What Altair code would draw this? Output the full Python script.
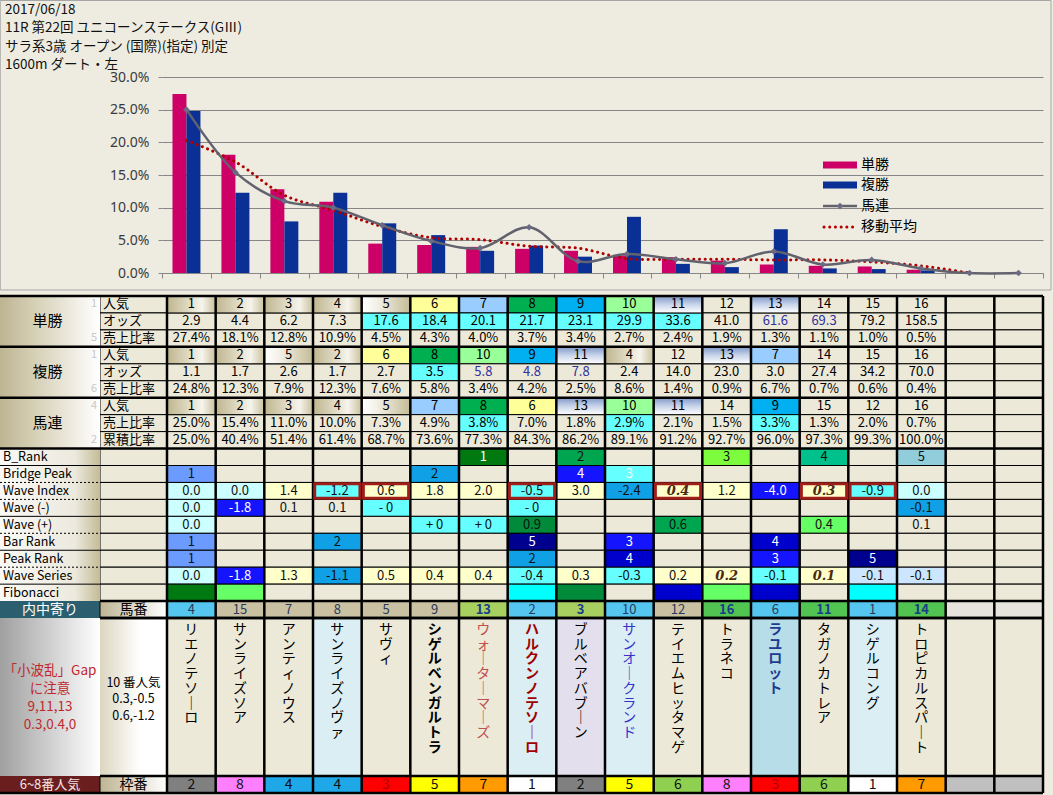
import altair as alt
import pandas as pd

# ---------------- data ----------------
title_lines = ["2017/06/18", "11R 第22回 ユニコーンステークス(GⅢ)",
               "サラ系3歳 オープン (国際)(指定) 別定", "1600m  ダート・左"]
categories = [str(i) for i in range(1, 19)]
series_names = ["単勝", "複勝", "馬連", "移動平均"]
y_ticks = [0, 5, 10, 15, 20, 25, 30]

tan_pop = [1, 2, 3, 4, 5, 6, 7, 8, 9, 10, 11, 12, 13, 14, 15, 16]
tan_odds = [2.9, 4.4, 6.2, 7.3, 17.6, 18.4, 20.1, 21.7, 23.1, 29.9, 33.6, 41.0, 61.6, 69.3, 79.2, 158.5]
tan_share = [27.4, 18.1, 12.8, 10.9, 4.5, 4.3, 4.0, 3.7, 3.4, 2.7, 2.4, 1.9, 1.3, 1.1, 1.0, 0.5]
fuku_pop = [1, 2, 5, 2, 6, 8, 10, 9, 11, 4, 12, 13, 7, 14, 15, 16]
fuku_odds = [1.1, 1.7, 2.6, 1.7, 2.7, 3.5, 5.8, 4.8, 7.8, 2.4, 14.0, 23.0, 3.0, 27.4, 34.2, 70.0]
fuku_share = [24.8, 12.3, 7.9, 12.3, 7.6, 5.8, 3.4, 4.2, 2.5, 8.6, 1.4, 0.9, 6.7, 0.7, 0.6, 0.4]
umaren_pop = [1, 2, 3, 4, 5, 7, 8, 6, 13, 10, 11, 14, 9, 15, 12, 16]
umaren_share = [25.0, 15.4, 11.0, 10.0, 7.3, 4.9, 3.8, 7.0, 1.8, 2.9, 2.1, 1.5, 3.3, 1.3, 2.0, 0.7]
umaren_cum = [25.0, 40.4, 51.4, 61.4, 68.7, 73.6, 77.3, 84.3, 86.2, 89.1, 91.2, 92.7, 96.0, 97.3, 99.3, 100.0]
umaren_tail = [0.0, 0.0]          # chart points 17 and 18 sit on 0%
moving_avg = [20.3, 17.0, 11.9, 9.6, 7.1, 5.4, 5.1, 4.1, 3.8, 2.2, 2.1, 2.1, 2.0, 2.0, 1.7, 1.1, 0.0]

b_rank = ["", "", "", "", "", "", "1", "", "2", "", "", "3", "", "4", "", "5"]
bridge_peak = ["1", "", "", "", "", "2", "", "", "4", "3", "", "", "", "", "", ""]
wave_index = [0.0, 0.0, 1.4, -1.2, 0.6, 1.8, 2.0, -0.5, 3.0, -2.4, 0.4, 1.2, -4.0, 0.3, -0.9, 0.0]
wave_minus = ["0.0", "-1.8", "0.1", "0.1", "- 0", "", "", "- 0", "", "", "", "", "", "", "", "-0.1"]
wave_plus = ["0.0", "", "", "", "", "+ 0", "+ 0", "0.9", "", "", "0.6", "", "", "0.4", "", "0.1"]
bar_rank = ["1", "", "", "2", "", "", "", "5", "", "3", "", "", "4", "", "", ""]
peak_rank = ["1", "", "", "", "", "", "", "2", "", "4", "", "", "3", "", "5", ""]
wave_series = [0.0, -1.8, 1.3, -1.1, 0.5, 0.4, 0.4, -0.4, 0.3, -0.3, 0.2, 0.2, -0.1, 0.1, -0.1, -0.1]
umaban = [4, 15, 7, 8, 5, 9, 13, 2, 3, 10, 12, 16, 6, 11, 1, 14]
waku = [2, 8, 4, 4, 3, 5, 7, 1, 2, 5, 6, 8, 3, 6, 1, 7]
horse_names = ["リエノテソーロ", "サンライズソア", "アンティノウス", "サンライズノヴァ", "サヴィ",
               "シゲルベンガルトラ", "ウォーターマーズ", "ハルクンノテソーロ", "ブルベアバブーン",
               "サンオークランド", "テイエムヒッタマゲ", "トラネコ", "ラユロット", "タガノカトレア",
               "シゲルコング", "トロピカルスパート"]
note_left = "「小波乱」Gap\nに注意\n9,11,13\n0.3,0.4,0"
note_right = "10 番人気\n0.3,-0.5\n0.6,-1.2"
lower_labels = ["B_Rank", "Bridge Peak", "Wave Index", "Wave (-)", "Wave (+)",
                "Bar Rank", "Peak Rank", "Wave Series", "Fibonacci"]

# ---------------- styles ----------------
FONT = "Noto Sans CJK JP"
PLAIN = "#ECE9D8"
PAL = {'pl': PLAIN, 'lc': '#CCFFFF', 'ly': '#FFFFCC', 'cy': '#66FFFF', 'bm': '#0FA0E6',
       'bl': '#1414FF', 'db': '#0000CC', 'nv': '#00008F', 'cf': '#6B9BFF', 'lb': '#CCE6FF',
       'dg': '#007A10', 'dg2': '#008A3A', 'gr': '#00A550', 'lg': '#66FF66', 'lg3': '#7CFC3C',
       'tg': '#00C08C', 'sb': '#92CDDC', 'ca': '#00FFFF'}
DARK = {'bl', 'db', 'nv', 'dg'}
b_rank_st = ['pl'] * 6 + ['dg', 'pl', 'gr', 'pl', 'pl', 'lg3', 'pl', 'tg', 'pl', 'sb']
bridge_st = ['cf', 'pl', 'pl', 'pl', 'pl', 'bm', 'pl', 'pl', 'bl', 'cy'] + ['pl'] * 6
windex_st = ['lc', 'lc', 'ly', 'cy', 'ly', 'ly', 'ly', 'cy', 'ly', 'bm', 'ly', 'ly', 'bl', 'ly', 'cy', 'lc']
wminus_st = ['lc', 'bl', 'pl', 'pl', 'cy', 'pl', 'pl', 'cy'] + ['pl'] * 7 + ['bm']
wplus_st = ['lc', 'pl', 'pl', 'pl', 'pl', 'cy', 'cy', 'dg2', 'pl', 'pl', 'gr', 'pl', 'pl', 'lg', 'pl', 'pl']
barr_st = ['cf', 'pl', 'pl', 'bm', 'pl', 'pl', 'pl', 'nv', 'pl', 'bl', 'pl', 'pl', 'db', 'pl', 'pl', 'pl']
peakr_st = ['cf', 'pl', 'pl', 'pl', 'pl', 'pl', 'pl', 'bm', 'pl', 'db', 'pl', 'pl', 'bl', 'pl', 'nv', 'pl']
wseries_st = ['lc', 'bl', 'ly', 'bm', 'ly', 'ly', 'ly', 'cy', 'ly', 'cy', 'ly', 'ly', 'cy', 'ly', 'lb', 'lb']
fib_st = ['dg', 'lg', 'pl', 'pl', 'pl', 'pl', 'pl', 'ca', 'dg2', 'pl', 'db', 'lg', 'db', 'pl', 'ca', 'pl']
red_box_cols = [3, 4, 7, 10, 13, 14]
bold_italic = {(11, 10), (11, 13), (16, 11), (16, 13)}
POP_FILL = {6: '#FFFF99', 7: '#99CCFF', 8: '#00B050', 9: '#00B0F0', 10: '#99FF99'}
UMA_FILL = {'b': '#55C6F0', 't': '#C9C1A2', 'y': '#A8D060', 'g': '#52C452'}
uma_st = ['b', 't', 't', 't', 't', 't', 'y', 'b', 'y', 'b', 't', 'g', 'b', 'g', 'b', 'g']
WAKU_FILL = {1: '#FFFFFF', 2: '#808080', 3: '#FF0000', 4: '#1EA8E8', 5: '#FFFF00',
             6: '#8FD050', 7: '#FF9A00', 8: '#FF80FF'}
name_bg = ['pl', 'pl', 'pl', 'n1', 'pl', 'pl', 'pl', 'n1', 'n2', 'n1', 'pl', 'pl', 'n3', 'pl', 'n1', 'pl']
NAME_FILL = {'pl': PLAIN, 'n1': '#DAEEF3', 'n2': '#E4DFEC', 'n3': '#B7DEE8'}
name_style = {5: ('bold', '#000000'), 6: ('normal', '#C0504D'), 7: ('bold', '#A00000'),
              9: ('normal', '#3333CC'), 12: ('bold', '#1F3A8F')}


def lg(stops, vertical=False):
    return alt.LinearGradient(gradient='linear',
                              stops=[alt.GradientStop(color=c, offset=o) for o, c in stops],
                              x1=0, y1=0, x2=0 if vertical else 1, y2=1 if vertical else 0)


GRADS = {
    'metal': lg([(0, '#BFB58F'), (0.35, '#D8D2B8'), (0.72, '#F6F4EC'), (1, '#C9C09C')]),
    'fade': lg([(0, '#FFFFFF'), (0.3, '#F3F1E8'), (1, '#C4BC96')]),
    'bluegrad': lg([(0, '#7F98C8'), (0.5, '#C8D4EA'), (1, '#FFFFFF')], vertical=True),
    'grp': lg([(0, '#BDB492'), (0.35, '#D6D0B6'), (1, '#FFFFFF')]),
    'low': lg([(0, '#FAF9F5'), (0.75, '#ECE9DE'), (1, '#C4BC96')]),
    'tanw': lg([(0, '#BDB492'), (1, '#FFFFFF')]),
    'gray': lg([(0, '#A0A0A0'), (1, '#FFFFFF')]),
    'note2': lg([(0, '#DCD6C0'), (0.6, '#FFFFFF'), (1, '#FFFFFF')]),
}

# ---------------- layout (table units) ----------------
COL_PX = 876 / 18
ROW_PX = 16.95
XA = -167 / COL_PX
XB = -67 / COL_PX
R_NAME = 19.0
R_WAKU = R_NAME + 158 / ROW_PX
R_END = R_WAKU + 1.0
R_TOP = -296 / ROW_PX          # top edge of the picture, in row units
NCOL = 18

TX = alt.Scale(domain=[-5 / COL_PX, 876 / COL_PX], nice=False, zero=False)
TY = alt.Scale(domain=[-219 / ROW_PX, -219 / ROW_PX + 196 / ROW_PX], nice=False, zero=False, reverse=True)

plain_cells, grad_cells, text_rows = [], {k: [] for k in GRADS}, []


def cell(c0, c1, r0, r1, fill, stroke=True):
    d = dict(x0=c0, x1=c1, y0=r0, y1=r1, fill=fill, st=1 if stroke else 0)
    if fill in GRADS:
        grad_cells[fill].append(d)
    else:
        plain_cells.append(d)


def txt(x, y, s, color='#000000', kind='num'):
    if s != "":
        text_rows.append(dict(tx=x, ty=y, text=s, color=color, kind=kind))


def pop_fill(v):
    if v <= 4:
        return 'metal'
    if v == 5:
        return 'fade'
    if v in (11, 13):
        return 'bluegrad'
    return POP_FILL.get(v, PLAIN)


# header text (race info)
txt(XA + 5 / COL_PX, R_TOP + 3.0 / ROW_PX, "\n".join(title_lines), '#111111', kind='title')

# top block
groups = [("単勝", ["人気", "オッズ", "売上比率"], ["1", "", "5"]),
          ("複勝", ["人気", "オッズ", "売上比率"], ["1", "", "6"]),
          ("馬連", ["人気", "売上比率", "累積比率"], ["4", "", "2"])]
top_rows = [
    [(str(v), pop_fill(v), '#000') for v in tan_pop],
    [(f"{v:.1f}", '#66FFFF' if 4 <= i <= 10 else PLAIN, '#2F2F9F' if i in (12, 13) else '#000') for i, v in enumerate(tan_odds)],
    [(f"{v:.1f}%", PLAIN, '#000') for v in tan_share],
    [(str(v), pop_fill(v), '#000') for v in fuku_pop],
    [(f"{v:.1f}", '#66FFFF' if i == 5 else PLAIN, '#2F2F9F' if i in (6, 7, 8) else '#000') for i, v in enumerate(fuku_odds)],
    [(f"{v:.1f}%", PLAIN, '#000') for v in fuku_share],
    [(str(v), pop_fill(v), '#000') for v in umaren_pop],
    [(f"{v:.1f}%", '#66FFFF' if i in (6, 9, 12) else PLAIN, '#000') for i, v in enumerate(umaren_share)],
    [(f"{v:.1f}%", PLAIN, '#000') for v in umaren_cum],
]
for g, (gname, subs, tiny) in enumerate(groups):
    r0 = g * 3
    cell(XA, XB, r0, r0 + 3, 'grp', stroke=False)
    txt((XA + XB) / 2 - 0.05, r0 + 1.5, gname, kind='grp')
    for k in range(3):
        cell(XB, 0, r0 + k, r0 + k + 1, PLAIN)
        txt(XB + 0.06, r0 + k + 0.5, subs[k], kind='sub')
        txt(XB - 0.12, r0 + k + 0.5, tiny[k], color='#C8C8C8', kind='tiny')
for r, row in enumerate(top_rows):
    for c in range(NCOL):
        if c < 16:
            s, f, tc = row[c]
            cell(c, c + 1, r, r + 1, f)
            txt(c + 0.5, r + 0.5, s, tc)
        else:
            cell(c, c + 1, r, r + 1, PLAIN)

# lower block
fmt = lambda v: f"{v:.1f}"
lower = [
    (b_rank, b_rank_st), (bridge_peak, bridge_st), ([fmt(v) for v in wave_index], windex_st),
    (wave_minus, wminus_st), (wave_plus, wplus_st), (bar_rank, barr_st), (peak_rank, peakr_st),
    ([fmt(v) for v in wave_series], wseries_st), ([""] * 16, fib_st)]
cell(XA, XB, 9, 18, 'low', stroke=False)
for k, (vals, sts) in enumerate(lower):
    r = 9 + k
    txt(XA + 0.06, r + 0.5, lower_labels[k], kind='lbl')
    cell(XB, 0, r, r + 1, PLAIN)
    for c in range(NCOL):
        code = sts[c] if c < 16 else 'pl'
        cell(c, c + 1, r, r + 1, PAL[code])
        if c < 16:
            if (r, c) in bold_italic:
                txt(c + 0.5, r + 0.5, vals[c], '#4A2A10', kind='bi')
            else:
                txt(c + 0.5, r + 0.5, vals[c], '#FFFFFF' if code in DARK or (code == 'cy' and r == 10) else '#111111')

# umaban row
cell(XA, XB, 18, 19, '#2B5E6E', stroke=False)
txt((XA + XB) / 2, 18.5, "内中寄り", '#FFFFFF', kind='lab14')
cell(XB, 0, 18, 19, 'tanw')
txt(XB / 2, 18.5, "馬番", kind='lab14')
for c in range(NCOL):
    if c < 16:
        cell(c, c + 1, 18, 19, UMA_FILL[uma_st[c]])
        bold = uma_st[c] in ('y', 'g')
        txt(c + 0.5, 18.5, str(umaban[c]), '#1A3C8C' if bold else '#2A3A5A', kind='umab' if bold else 'num')
    else:
        cell(c, c + 1, 18, 19, '#E6E4DC')

# names block
cell(XA, XB, R_NAME, R_WAKU, 'gray', stroke=False)
cell(XB, 0, R_NAME, R_WAKU, 'note2', stroke=False)
txt((XA + XB) / 2, R_NAME + 2.7, note_left, '#C0282D', kind='note1')
txt(XB / 2, R_NAME + 3.45, note_right, '#000000', kind='note2')
for c in range(NCOL):
    if c < 16:
        cell(c, c + 1, R_NAME, R_WAKU, NAME_FILL[name_bg[c]])
        w, col = name_style.get(c, ('normal', '#000000'))
        s = "\n".join(horse_names[c].replace("ー", "｜"))
        txt(c + 0.5, R_NAME, s, col, kind='nameb' if w == 'bold' else 'name')
    else:
        cell(c, c + 1, R_NAME, R_WAKU, PLAIN)

# waku row
cell(XA, XB, R_WAKU, R_END, '#6A1E1E', stroke=False)
txt((XA + XB) / 2, R_WAKU + 0.5, "6~8番人気", '#F4E4E4', kind='lab13')
cell(XB, 0, R_WAKU, R_END, 'tanw')
txt(XB / 2, R_WAKU + 0.5, "枠番", kind='lab14')
for c in range(NCOL):
    if c < 16:
        cell(c, c + 1, R_WAKU, R_END, WAKU_FILL[waku[c]])
        txt(c + 0.5, R_WAKU + 0.5, str(waku[c]), '#B00000' if waku[c] == 3 else '#111111', kind='num14')
    else:
        cell(c, c + 1, R_WAKU, R_END, '#C0C0C0')

# rules
thick, thin, dotted = [], [], []
for c in range(NCOL + 1):
    thick.append(dict(x0=c, x1=c, y0=0, y1=R_END))
for r in (0, 3, 6, 9):
    thick.append(dict(x0=XA, x1=NCOL, y0=r, y1=r))
for r in (18, 19, R_NAME, R_WAKU):
    thick.append(dict(x0=XB, x1=NCOL, y0=r, y1=r))
thick.append(dict(x0=XA, x1=NCOL, y0=R_END, y1=R_END))
for r in (10, 13, 15, 17):
    thin.append(dict(x0=XA, x1=XB, y0=r, y1=r))
for r in (11, 12, 14, 16):
    dotted.append(dict(x0=XA, x1=XB, y0=r, y1=r))
red_boxes = [dict(x0=c + 0.035, x1=c + 0.965, y0=11.07, y1=11.93) for c in red_box_cols]
frame = [dict(x0=XA + 0.005, x1=(1051 - 167) / COL_PX, y0=R_TOP + 0.03, y1=-6 / ROW_PX)]

# ---------------- table layers ----------------
def enc_rect(ch):
    return ch.encode(x=alt.X('x0:Q', scale=TX, axis=None), x2='x1:Q',
                     y=alt.Y('y0:Q', scale=TY, axis=None), y2='y1:Q')


table_layers = [
    enc_rect(alt.Chart(pd.DataFrame(frame)).mark_rect(fillOpacity=0, stroke='#A6A6A6', strokeWidth=1)),
]
pdf = pd.DataFrame(plain_cells)
table_layers.append(enc_rect(alt.Chart(pdf[pdf.st == 1]).mark_rect(stroke='#000000', strokeWidth=1)).encode(
    fill=alt.Fill('fill:N', scale=None)))
table_layers.append(enc_rect(alt.Chart(pdf[pdf.st == 0]).mark_rect()).encode(
    fill=alt.Fill('fill:N', scale=None)))
for gname, lst in grad_cells.items():
    if not lst:
        continue
    gdf = pd.DataFrame(lst)
    for st in (0, 1):
        sub = gdf[gdf.st == st]
        if len(sub) == 0:
            continue
        if st:
            m = alt.Chart(sub).mark_rect(fill=GRADS[gname], stroke='#000000', strokeWidth=1)
        else:
            m = alt.Chart(sub).mark_rect(fill=GRADS[gname])
        table_layers.append(enc_rect(m))


def enc_rule(rows, **kw):
    return alt.Chart(pd.DataFrame(rows)).mark_rule(**kw).encode(
        x=alt.X('x0:Q', scale=TX, axis=None), x2='x1:Q',
        y=alt.Y('y0:Q', scale=TY, axis=None), y2='y1:Q')


table_layers.append(enc_rule(thin, color='#000000', strokeWidth=1))
table_layers.append(enc_rule(dotted, color='#000000', strokeWidth=1, strokeDash=[2, 2]))
table_layers.append(enc_rule(thick, color='#000000', strokeWidth=2.5))
table_layers.append(enc_rect(alt.Chart(pd.DataFrame(red_boxes)).mark_rect(
    fillOpacity=0, stroke='#A01E1A', strokeWidth=3)))

TEXT_KINDS = {
    'title': dict(fontSize=13.5, font=FONT, align='left', baseline='top', lineBreak='\n', lineHeight=18.3),
    'num': dict(fontSize=13, font=FONT),
    'num14': dict(fontSize=14, font=FONT),
    'bi': dict(fontSize=13, font="DejaVu Serif", fontWeight='bold', fontStyle='italic'),
    'sub': dict(fontSize=13, font=FONT, align='left'),
    'grp': dict(fontSize=15, font=FONT),
    'tiny': dict(fontSize=11, font=FONT),
    'lbl': dict(fontSize=12.5, font=FONT, align='left'),
    'lab14': dict(fontSize=14, font=FONT),
    'lab13': dict(fontSize=13, font=FONT),
    'umab': dict(fontSize=13, font=FONT, fontWeight='bold'),
    'note1': dict(fontSize=13.5, font=FONT, lineBreak='\n', lineHeight=18, baseline='top'),
    'note2': dict(fontSize=12.5, font=FONT, lineBreak='\n', lineHeight=16.5, baseline='top'),
    'name': dict(fontSize=14, font=FONT, lineBreak='\n', lineHeight=14.7, baseline='top', dy=5),
    'nameb': dict(fontSize=14, font=FONT, fontWeight='bold', lineBreak='\n', lineHeight=14.7, baseline='top', dy=5),
}
tdf = pd.DataFrame(text_rows)
for kind, props in TEXT_KINDS.items():
    sub = tdf[tdf.kind == kind]
    if len(sub) == 0:
        continue
    props = dict(props)
    props.setdefault('align', 'center')
    props.setdefault('baseline', 'middle')
    table_layers.append(alt.Chart(sub).mark_text(**props).encode(
        x=alt.X('tx:Q', scale=TX, axis=None), y=alt.Y('ty:Q', scale=TY, axis=None),
        text='text:N', color=alt.Color('color:N', scale=None)))

table_part = alt.layer(*table_layers)

# ---------------- chart layers ----------------
PINK, BLUE, GRAY, DRED = '#CC0066', '#0A3096', '#62626E', '#B00000'
bar_rows = []
for i in range(16):
    bar_rows.append(dict(cat=categories[i], series="単勝", value=tan_share[i]))
    bar_rows.append(dict(cat=categories[i], series="複勝", value=fuku_share[i]))
bar_df = pd.DataFrame(bar_rows)
line_df = pd.DataFrame({'cat': categories, 'value': umaren_share + umaren_tail})
ma_df = pd.DataFrame({'cat': categories[:len(moving_avg)], 'value': moving_avg})

xscale = alt.Scale(domain=categories, paddingInner=0, paddingOuter=0)
yscale = alt.Scale(domain=[0, 30], nice=False)
xaxis = alt.Axis(labels=False, title=None, tickBand='extent', tickSize=5,
                 tickColor='#868686', domainColor='#868686', grid=False)
yaxis = alt.Axis(values=y_ticks, labelExpr="format(datum.value, '.1f') + '%'", title=None,
                 grid=True, gridColor='#868686', tickColor='#868686', tickSize=4,
                 domain=False, labelPadding=9, labelFont='Noto Sans', labelFontSize=14,
                 labelColor='#3A3A3A')
X = alt.X('cat:O', scale=xscale, sort=categories, axis=xaxis)
Y = alt.Y('value:Q', scale=yscale, axis=yaxis)

bars = alt.Chart(bar_df).mark_bar().encode(
    x=X,
    xOffset=alt.XOffset('series:N', scale=alt.Scale(domain=["単勝", "複勝"], paddingInner=0, paddingOuter=0.75)),
    y=Y,
    color=alt.Color('series:N', scale=alt.Scale(domain=["単勝", "複勝"], range=[PINK, BLUE]), legend=None),
)
ma_line = alt.Chart(ma_df).mark_line(color=DRED, strokeWidth=3, strokeDash=[0.1, 5.6], strokeCap='round',
                                     interpolate='catmull-rom').encode(x=X, y=Y)
um_line = alt.Chart(line_df).mark_line(color=GRAY, strokeWidth=2.5, interpolate='catmull-rom').encode(x=X, y=Y)
um_pts = alt.Chart(line_df).mark_point(shape='diamond', filled=True, size=45, color='#6A6A84', opacity=1).encode(x=X, y=Y)

one = pd.DataFrame({'k': [0]})
LX0, LX1, LTX = 661, 695, 699
LY = [88, 108, 129, 150]
legend_layers = [
    alt.Chart(one).mark_rect(color=PINK).encode(x=alt.value(LX0), x2=alt.value(LX1), y=alt.value(LY[0] - 3.5), y2=alt.value(LY[0] + 3.5)),
    alt.Chart(one).mark_rect(color=BLUE).encode(x=alt.value(LX0), x2=alt.value(LX1), y=alt.value(LY[1] - 3.5), y2=alt.value(LY[1] + 3.5)),
    alt.Chart(one).mark_rule(color=GRAY, strokeWidth=2.5).encode(x=alt.value(LX0), x2=alt.value(LX1), y=alt.value(LY[2])),
    alt.Chart(one).mark_point(shape='diamond', filled=True, size=45, color='#6A6A84', opacity=1).encode(x=alt.value((LX0 + LX1) / 2), y=alt.value(LY[2])),
    alt.Chart(one).mark_rule(color=DRED, strokeWidth=3, strokeDash=[0.1, 5.6], strokeCap='round').encode(x=alt.value(LX0 + 1), x2=alt.value(LX1), y=alt.value(LY[3])),
]
for name, yy in zip(series_names, LY):
    legend_layers.append(alt.Chart(one).mark_text(align='left', baseline='middle', fontSize=14, font=FONT,
                                                  color='#000000', text=name).encode(
        x=alt.value(LTX), y=alt.value(yy)))

chart_part = alt.layer(bars, ma_line, um_line, um_pts, *legend_layers)

chart = alt.layer(table_part, chart_part).resolve_scale(
    x='independent', y='independent', color='independent'
).properties(
    width=881, height=196,
    padding={"left": 162, "top": 77, "right": 10, "bottom": 522},
    autosize=alt.AutoSizeParams(type="none"),
    background='#EEECE1',
).configure_view(stroke=None)

chart.save("out.html", embed_options={"renderer": "svg", "actions": False})
